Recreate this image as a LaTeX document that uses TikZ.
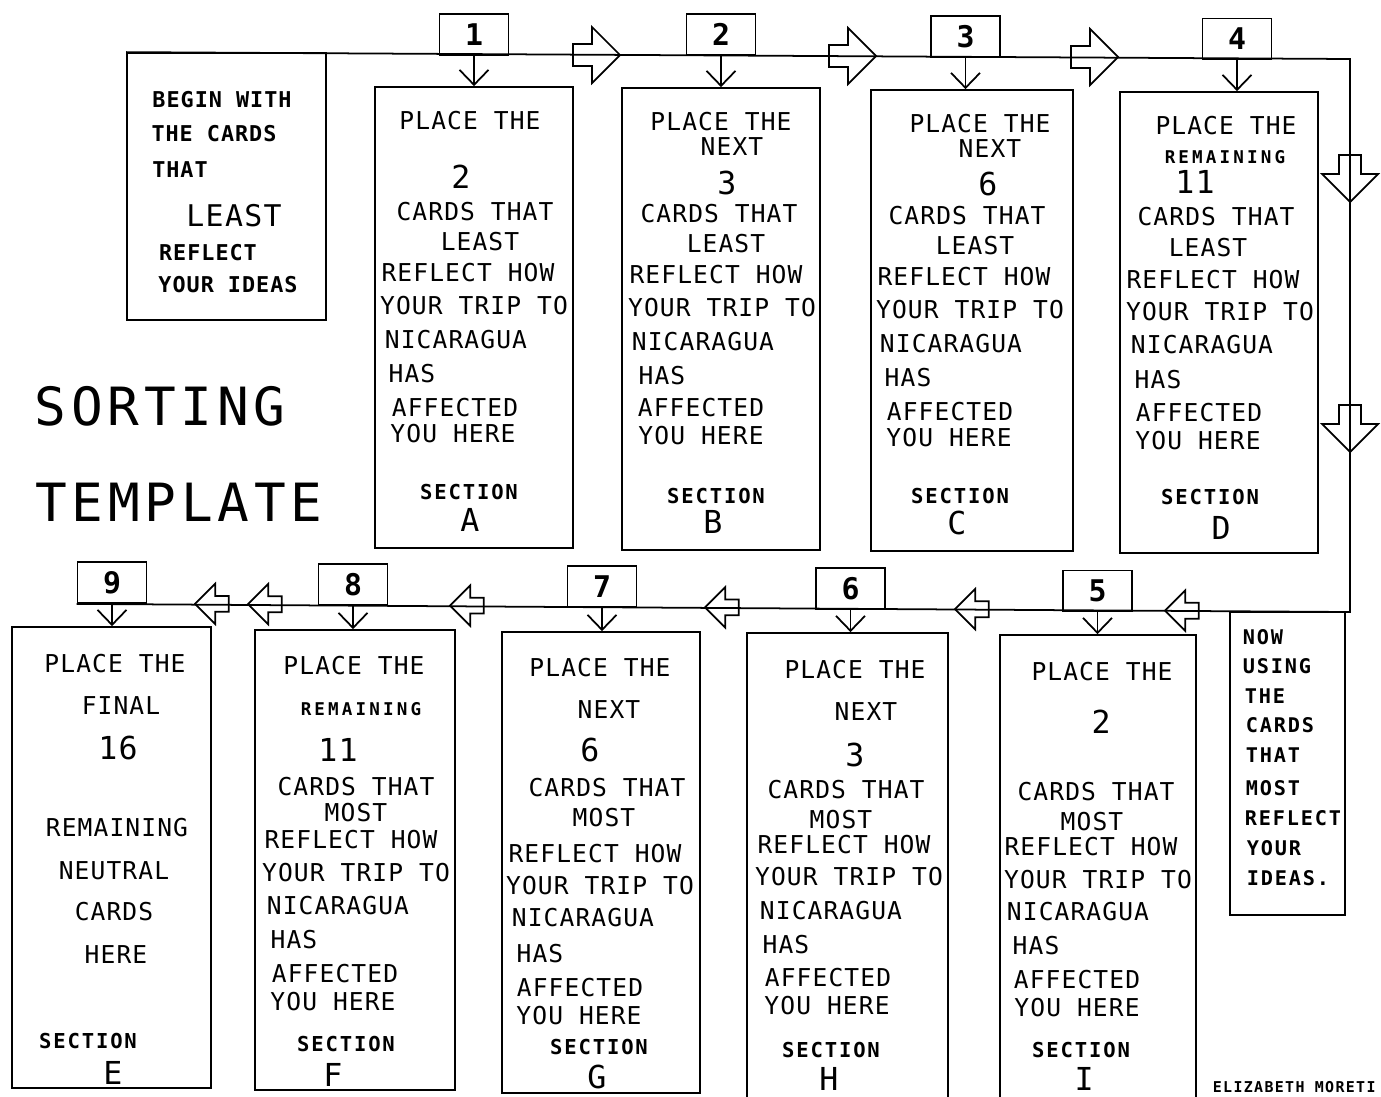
\documentclass[tikz,border=0pt]{standalone}
\usepackage{fontspec}
\newfontfamily\plotfont[LetterSpace=4.5]{DejaVu Sans Mono}
\newfontfamily\plotmid[LetterSpace=9]{DejaVu Sans Mono}
\newfontfamily\plotwide[LetterSpace=18]{DejaVu Sans Mono}
\usetikzlibrary{arrows.meta,fit}

\begin{document}
\begin{tikzpicture}[
  x=0.02cm, y=-0.02cm,
  line width=1pt,
  vee/.style    = {-{Straight Barb[length=3mm,width=5.8mm]}},
  secbox/.style = {draw, inner sep=0pt},
  nbox/.style   = {draw, minimum width=1.38cm, minimum height=0.82cm, inner sep=0pt,
                   font=\fontsize{17}{17}\plotfont\bfseries},
  tx/.style     = {inner sep=0pt, font=\fontsize{14}{14}\plotfont},
  big/.style    = {inner sep=0pt, font=\fontsize{18}{18}\plotfont},
  sec/.style    = {inner sep=0pt, font=\fontsize{11.7}{12}\plotmid\bfseries},
  rem/.style    = {inner sep=0pt, font=\fontsize{10}{10}\plotwide\bfseries},
  bgn/.style    = {inner sep=0pt, font=\fontsize{12.4}{13}\plotfont\bfseries},
  sml/.style    = {inner sep=0pt, anchor=west, font=\fontsize{11.5}{12}\plotmid\bfseries},
  ttl/.style    = {inner sep=0pt, font=\fontsize{30}{30}\plotmid},
  bigarr/.pic   = {\draw (0,0) -- (-28,-28) -- (-28,-11) -- (-47,-11) -- (-47,11)
                     -- (-28,11) -- (-28,28) -- cycle;},
]
\useasboundingbox (0,0) rectangle (1381,1096);

%% start box and title
\node[secbox, fit={(127,53) (326,320)}] (start) {};
\foreach \px/\py/\t [count=\i] in {222/100/BEGIN WITH, 214/134/THE CARDS, 180/170/THAT,
    208/253/REFLECT, 228/285/YOUR IDEAS}
  \node[bgn] (start\i) at (\px,\py) {\t};
\node[tx, font=\fontsize{17}{17}\plotfont] (startleast) at (234,216) {LEAST};

\node[ttl] (title1) at (160,406) {SORTING};
\node[ttl] (title2) at (179,502) {TEMPLATE};

%% the track
\coordinate (tr) at (1350,59);
\coordinate (br) at (1350,612);
\node[nbox] (n9) at (112,582.5) {9};
\draw (start.north west) -- (tr) -- (br) -- (n9.south west);

%% number boxes
\node[nbox] (n1) at (474,34.5) {1};
\node[nbox] (n2) at (721,34.5) {2};
\node[nbox] (n3) at (965.5,36.5) {3};
\node[nbox] (n4) at (1237,39) {4};
\node[nbox] (n5) at (1097.5,591) {5};
\node[nbox] (n6) at (850.5,588.5) {6};
\node[nbox] (n7) at (602,586.5) {7};
\node[nbox] (n8) at (353,584.5) {8};

%% section boxes
\node[secbox, fit={(375,87) (573,548)}]   (A) {};
\node[secbox, fit={(622,88) (820,550)}]   (B) {};
\node[secbox, fit={(871,90) (1073,551)}]  (C) {};
\node[secbox, fit={(1120,92) (1318,553)}] (D) {};
\node[secbox, fit={(12,627) (211,1088)}]  (E) {};
\node[secbox, fit={(255,630) (455,1090)}] (F) {};
\node[secbox, fit={(502,632) (700,1093)}] (G) {};
\node[secbox, fit={(747,633) (948,1099)}] (H) {};
\node[secbox, fit={(1000,635) (1196,1099)}] (I) {};
\node[secbox, fit={(1230,612) (1345,915)}] (now) {};

\foreach \n/\s in {n1/A, n2/B, n3/C, n4/D, n9/E, n8/F, n7/G, n6/H, n5/I}
  \draw[vee] (\n.south) -- (\n.south |- \s.north);

%% big outline arrows along the track
\pic at (620,55) {bigarr};
\pic at (876,56) {bigarr};
\pic at (1118,57) {bigarr};
\pic[rotate=-90] at (1350,202) {bigarr};
\pic[rotate=-90] at (1350,452) {bigarr};
\foreach \ax/\ay in {195/603.8, 248/604.2, 450/605.6, 705/607.4, 955/609.2, 1165/610.7}
  \pic[rotate=180, scale=0.72] at (\ax,\ay) {bigarr};

%% section A
\foreach \px/\py/\t [count=\i] in {470/121/PLACE THE, 475/212/CARDS THAT, 480/242/LEAST,
    468/273/REFLECT HOW, 474/306/YOUR TRIP TO, 456/340/NICARAGUA, 412/374/HAS,
    455/408/AFFECTED, 453/434/YOU HERE}
  \node[tx] (A\i) at (\px,\py) {\t};
\node[big] (Anum) at (461,177) {2};
\node[sec] (Asec) at (469,492) {SECTION};
\node[big] (Alet) at (470,520) {A};

%% section B
\foreach \px/\py/\t [count=\i] in {721/122/PLACE THE, 732/147/NEXT, 719/214/CARDS THAT,
    726/244/LEAST, 716/275/REFLECT HOW, 722/308/YOUR TRIP TO, 703/342/NICARAGUA,
    662/376/HAS, 701/408/AFFECTED, 701/436/YOU HERE}
  \node[tx] (B\i) at (\px,\py) {\t};
\node[big] (Bnum) at (727,183) {3};
\node[sec] (Bsec) at (716,496) {SECTION};
\node[big] (Blet) at (713,522) {B};

%% section C
\foreach \px/\py/\t [count=\i] in {980/124/PLACE THE, 990/149/NEXT, 967/216/CARDS THAT,
    975/246/LEAST, 964/277/REFLECT HOW, 970/310/YOUR TRIP TO, 951/344/NICARAGUA,
    908/378/HAS, 950/412/AFFECTED, 949/438/YOU HERE}
  \node[tx] (C\i) at (\px,\py) {\t};
\node[big] (Cnum) at (988,184) {6};
\node[sec] (Csec) at (960,496) {SECTION};
\node[big] (Clet) at (957,523) {C};

%% section D
\foreach \px/\py/\t [count=\i] in {1226/126/PLACE THE, 1216/217/CARDS THAT,
    1208/248/LEAST, 1213/280/REFLECT HOW, 1220/312/YOUR TRIP TO, 1202/345/NICARAGUA,
    1158/380/HAS, 1199/413/AFFECTED, 1198/441/YOU HERE}
  \node[tx] (D\i) at (\px,\py) {\t};
\node[rem] (Drem) at (1225,157) {REMAINING};
\node[big] (Dnum) at (1195,182) {11};
\node[sec] (Dsec) at (1210,497) {SECTION};
\node[big] (Dlet) at (1221,528) {D};

%% section E
\foreach \px/\py/\t [count=\i] in {115/664/PLACE THE, 121/706/FINAL, 117/828/REMAINING,
    114/871/NEUTRAL, 114/912/CARDS, 116/955/HERE}
  \node[tx] (E\i) at (\px,\py) {\t};
\node[big] (Enum) at (118,748) {16};
\node[sec] (Esec) at (88,1041) {SECTION};
\node[big] (Elet) at (113,1073) {E};

%% section F
\foreach \px/\py/\t [count=\i] in {354/666/PLACE THE, 356/787/CARDS THAT, 356/813/MOST,
    351/840/REFLECT HOW, 356/873/YOUR TRIP TO, 338/906/NICARAGUA, 294/940/HAS,
    335/974/AFFECTED, 333/1002/YOU HERE}
  \node[tx] (F\i) at (\px,\py) {\t};
\node[rem] (Frem) at (361,709) {REMAINING};
\node[big] (Fnum) at (338,750) {11};
\node[sec] (Fsec) at (346,1044) {SECTION};
\node[big] (Flet) at (333,1075) {F};

%% section G
\foreach \px/\py/\t [count=\i] in {600/668/PLACE THE, 609/710/NEXT, 607/788/CARDS THAT,
    604/818/MOST, 595/854/REFLECT HOW, 600/886/YOUR TRIP TO, 583/918/NICARAGUA,
    540/954/HAS, 580/988/AFFECTED, 579/1016/YOU HERE}
  \node[tx] (G\i) at (\px,\py) {\t};
\node[big] (Gnum) at (590,750) {6};
\node[sec] (Gsec) at (599,1047) {SECTION};
\node[big] (Glet) at (597,1077) {G};

%% section H
\foreach \px/\py/\t [count=\i] in {855/670/PLACE THE, 866/712/NEXT, 846/790/CARDS THAT,
    841/820/MOST, 844/845/REFLECT HOW, 849/877/YOUR TRIP TO, 831/911/NICARAGUA,
    786/945/HAS, 828/978/AFFECTED, 827/1006/YOU HERE}
  \node[tx] (H\i) at (\px,\py) {\t};
\node[big] (Hnum) at (855,755) {3};
\node[sec] (Hsec) at (831,1050) {SECTION};
\node[big] (Hlet) at (829,1079) {H};

%% section I
\foreach \px/\py/\t [count=\i] in {1102/672/PLACE THE, 1096/792/CARDS THAT, 1092/822/MOST,
    1091/847/REFLECT HOW, 1098/880/YOUR TRIP TO, 1078/912/NICARAGUA, 1036/946/HAS,
    1077/980/AFFECTED, 1077/1008/YOU HERE}
  \node[tx] (I\i) at (\px,\py) {\t};
\node[big] (Inum) at (1101,722) {2};
\node[sec] (Isec) at (1081,1050) {SECTION};
\node[big] (Ilet) at (1084,1079) {I};

%% closing note
\foreach \px/\py/\t [count=\i] in {1242/637/NOW, 1242/666/USING, 1244/696/THE,
    1245/725/CARDS, 1245/755/THAT, 1245/788/MOST, 1244/818/REFLECT, 1246/848/YOUR,
    1246/878/IDEAS.}
  \node[sml] (now\i) at (\px,\py) {\t};

\node[inner sep=0pt, anchor=south west, font=\fontsize{8.5}{9}\plotmid\bfseries]
  (author) at (1212,1094) {ELIZABETH MORETI};

\end{tikzpicture}
\end{document}
